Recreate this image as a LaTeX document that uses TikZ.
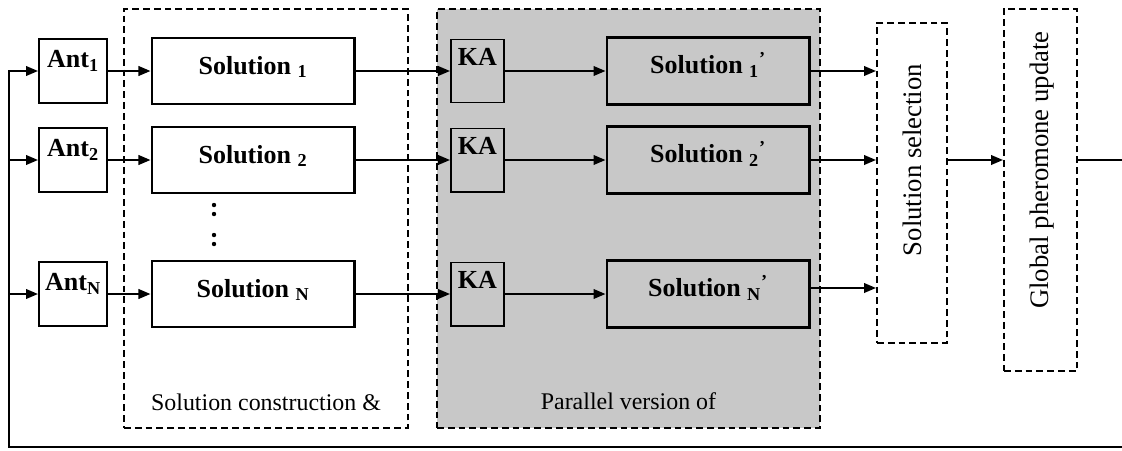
\documentclass[tikz,border=0pt]{standalone}
\usepackage{fontspec}
\setmainfont{Liberation Serif}
\usetikzlibrary{arrows.meta}
\definecolor{kagrey}{HTML}{C8C8C8}

\begin{document}
\begin{tikzpicture}[x=0.025cm, y=-0.025cm, line width=1.4pt,
    >={Triangle[length=0.3cm, width=0.24cm]},
    antbox/.style={draw, inner sep=0pt, minimum width=1.7cm, minimum height=1.6cm,
        text height=0.72cm, text depth=0.88cm, font=\fontsize{18.5}{22}\selectfont\bfseries},
    kabox/.style={antbox, minimum width=1.325cm, minimum height=1.575cm,
        text height=0.65cm, text depth=0.925cm},
    solbox/.style={draw, line width=2.1pt, inner sep=0pt, minimum width=5.05cm, minimum height=1.65cm,
        text height=0.9cm, text depth=0.75cm, font=\fontsize{18.5}{22}\selectfont\bfseries},
    dashbox/.style={draw, dash pattern=on 0.17cm off 0.1cm, inner sep=0pt},
    lbl/.style={inner sep=0pt, font=\fontsize{17}{20}\selectfont},
    vlbl/.style={inner sep=0pt, rotate=90, font=\fontsize{19}{22}\selectfont}]
    \useasboundingbox (0,0) rectangle (1122,450);

    % the two big stage boxes
    \node[dashbox, fill=kagrey, minimum width=9.575cm, minimum height=10.475cm] (parbox) at (628.5,218.5) {};
    \node[dashbox, minimum width=7.1cm, minimum height=10.475cm] (conbox) at (266,218.5) {};
    \node[lbl, anchor=base] (conlbl) at (266,410) {Solution construction \&};
    \node[lbl, anchor=base] (parlbl) at (628.5,409) {Parallel version of};

    % ants and their solutions
    \node[antbox] (ant1) at (73,71) {Ant\textsubscript{1}};
    \node[antbox] (ant2) at (73,160) {Ant\textsubscript{2}};
    \node[antbox] (antN) at (73,294) {Ant\textsubscript{N}};
    \node[solbox] (sol1) at (253,71) {Solution \textsubscript{1}};
    \node[solbox] (sol2) at (253,160) {Solution \textsubscript{2}};
    \node[solbox] (solN) at (253,294) {Solution \textsubscript{N}};
    \foreach \y in {205,214,235,244}
        \fill (214,\y) circle (0.055cm);

    % KA and improved solutions
    \node[kabox] (ka1) at (477.5,71) {KA};
    \node[kabox] (ka2) at (477.5,160) {KA};
    \node[kabox] (kaN) at (477.5,294) {KA};
    \node[solbox, minimum height=1.675cm, text depth=0.775cm] (solp1) at (708,71) {Solution \textsubscript{1}\textsuperscript{'}};
    \node[solbox, minimum height=1.675cm, text depth=0.775cm] (solp2) at (708,160) {Solution \textsubscript{2}\textsuperscript{'}};
    \node[solbox, minimum height=1.675cm, text depth=0.775cm] (solpN) at (708,294) {Solution \textsubscript{N}\textsuperscript{'}};

    % selection and pheromone update
    \node[dashbox, minimum width=1.75cm, minimum height=8cm] (sel) at (912,183) {};
    \node[vlbl] (seltxt) at (912,160) {Solution selection};
    \node[dashbox, minimum width=1.825cm, minimum height=9.05cm] (gpu) at (1040.5,190) {};
    \node[vlbl] (gputxt) at (1042,170) {Global pheromone update};

    \foreach \i in {1,2,N} {
        \draw[->] (ant\i.east) -- (sol\i.west);
        \draw[->] (sol\i.east) -- (ka\i.west);
        \draw[->] (ka\i.east) -- (solp\i.west);
    }
    \draw[->] (solp1.east) -- (solp1.east -| sel.west);
    \draw[->] (solp2.east) -- (solp2.east -| sel.west);
    \draw[->] ([yshift=0.15cm]solpN.east) -- ([yshift=0.15cm]solpN.east -| sel.west);
    \draw[->] (sel.east |- solp2) -- (gpu.west |- solp2);

    % feedback loop
    \coordinate (loopR) at (1135,160);
    \coordinate (loopB) at (9,447);
    \draw[->] (gpu.east |- solp2) -- (loopR) |- (loopB) |- (ant1.west);
    \draw[->] (loopB |- ant2) -- (ant2.west);
    \draw[->] (loopB |- antN) -- (antN.west);
\end{tikzpicture}
\end{document}
